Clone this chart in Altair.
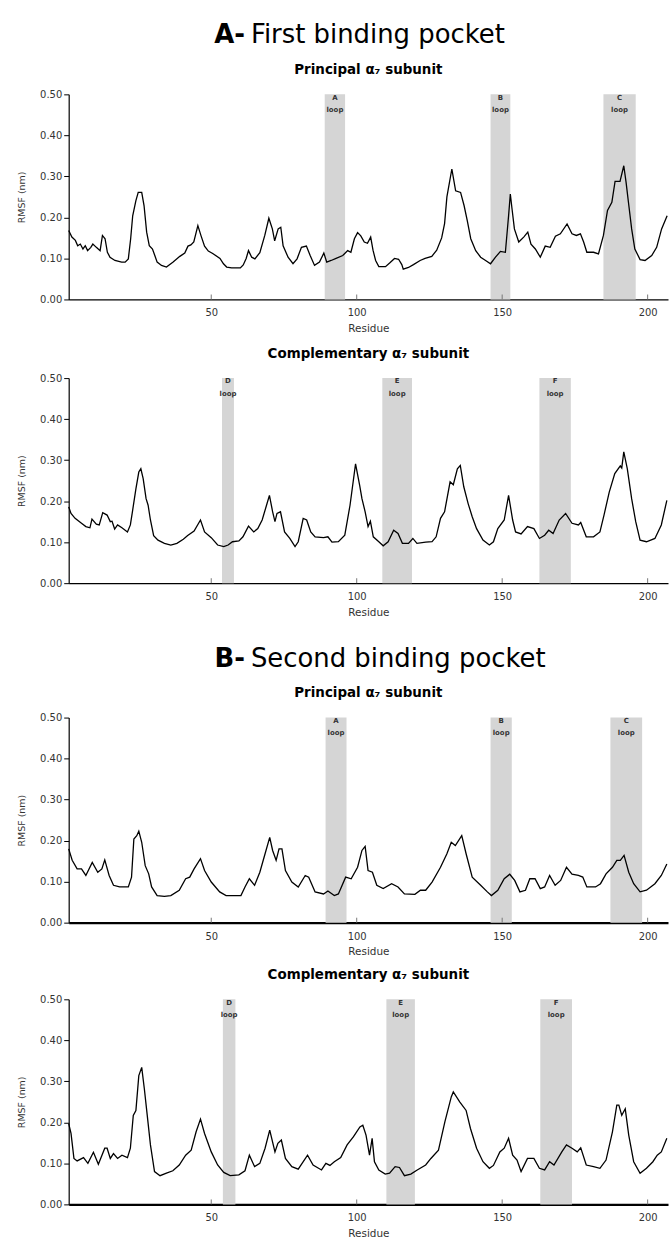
import altair as alt
import pandas as pd

FONT = "DejaVu Sans"
W = 602
H = 206

x_tick_values = [50, 100, 150, 200]
y_tick_values = [0.0, 0.1, 0.2, 0.3, 0.4, 0.5]

# (residue, RMSF nm)
a_principal = [(1,0.168),(2.1,0.152),(3.3,0.144),(4.1,0.131),(5,0.135),(5.9,0.123),(6.7,0.131),(7.5,0.119),(8.6,0.127),(9.3,0.135),(10.5,0.127),(11.8,0.119),(12.6,0.156),(13.5,0.148),(14.3,0.115),(15.2,0.103),(16.9,0.095),(19.2,0.091),(20.4,0.091),(21.5,0.099),(22.3,0.148),(23,0.204),(24.1,0.241),(24.9,0.261),(26.1,0.261),(26.9,0.229),(27.8,0.164),(28.7,0.131),(29.8,0.123),(30.6,0.107),(31.4,0.091),(32.9,0.083),(34.6,0.079),(36.9,0.091),(39.2,0.105),(40.9,0.113),(42,0.13),(43,0.133),(44,0.14),(45.4,0.18),(46.5,0.155),(47.7,0.13),(49,0.118),(50.5,0.112),(53,0.1),(54.2,0.087),(55.3,0.079),(57,0.077),(60,0.077),(61,0.084),(62,0.1),(62.8,0.119),(63.9,0.103),(65,0.099),(66.7,0.114),(68.4,0.156),(69.8,0.198),(71,0.172),(71.8,0.143),(73,0.172),(73.9,0.176),(74.7,0.131),(76.4,0.103),(78.1,0.087),(79.5,0.099),(81,0.127),(82.7,0.13),(84,0.107),(85.5,0.083),(87.2,0.091),(88.7,0.113),(89.7,0.091),(91.2,0.095),(92.9,0.1),(95.2,0.107),(96.9,0.119),(98,0.115),(99.2,0.148),(100.3,0.163),(101.4,0.155),(102.6,0.14),(103.7,0.137),(104.8,0.152),(105.6,0.12),(106.5,0.095),(107.6,0.08),(109.9,0.08),(111.5,0.09),(113,0.1),(114.4,0.098),(115.5,0.085),(116,0.074),(117.8,0.078),(119.5,0.085),(121.8,0.095),(123.5,0.1),(125.8,0.105),(127.5,0.12),(129.2,0.15),(130.2,0.185),(131,0.25),(132.7,0.318),(134,0.265),(135.7,0.261),(136.9,0.229),(138,0.192),(139.2,0.148),(140.9,0.119),(142.6,0.103),(144.3,0.095),(146,0.087),(147.7,0.103),(149.4,0.117),(151.1,0.115),(152.2,0.204),(152.8,0.257),(153.4,0.22),(154.2,0.172),(155.7,0.14),(157.4,0.152),(158.8,0.164),(159.9,0.135),(161.4,0.123),(163.1,0.103),(164.8,0.13),(166.5,0.127),(168.3,0.154),(170,0.16),(172.3,0.184),(174,0.16),(175.5,0.156),(176.9,0.16),(178,0.14),(179.1,0.115),(181.4,0.115),(183.1,0.111),(184.8,0.156),(186.2,0.217),(187.7,0.237),(188.8,0.288),(190.5,0.288),(191.8,0.326),(192.6,0.285),(193.4,0.237),(194.5,0.172),(195.6,0.123),(197.4,0.097),(199.1,0.095),(201.4,0.107),(203.1,0.127),(204.8,0.172),(206.7,0.204)]

a_complementary = [(1,0.186),(1.8,0.17),(3.2,0.158),(5.4,0.146),(6.9,0.138),(8.3,0.135),(9,0.156),(10.5,0.144),(11.5,0.142),(12.7,0.172),(14.2,0.166),(15.3,0.15),(15.9,0.151),(16.8,0.132),(17.8,0.142),(19.3,0.135),(21.2,0.125),(22.2,0.142),(22.9,0.174),(24.1,0.23),(25.1,0.271),(25.8,0.279),(26.6,0.255),(27.6,0.206),(28.3,0.19),(29.1,0.154),(30.2,0.116),(31.7,0.105),(33.9,0.097),(36.1,0.093),(38.2,0.097),(40.4,0.107),(41.9,0.116),(44.1,0.127),(46.3,0.154),(47.7,0.125),(50,0.111),(52.2,0.093),(54.3,0.089),(55.8,0.093),(57.3,0.101),(59.5,0.103),(60.9,0.113),(62.8,0.139),(64.6,0.125),(66,0.133),(67.5,0.154),(69,0.19),(70,0.214),(71.1,0.174),(71.9,0.15),(72.6,0.17),(73.8,0.174),(75.2,0.125),(77,0.109),(78.8,0.089),(79.9,0.101),(81.6,0.158),(82.8,0.154),(84.2,0.125),(85.7,0.113),(88.6,0.111),(90.1,0.113),(91.5,0.1),(93.7,0.101),(95.9,0.117),(97.7,0.19),(99.6,0.291),(101,0.239),(101.8,0.206),(102.9,0.174),(103.9,0.138),(104.7,0.151),(105.7,0.113),(107.6,0.101),(109.1,0.091),(110.8,0.101),(112.7,0.129),(114.2,0.121),(115.7,0.097),(117.8,0.097),(119.3,0.109),(120.7,0.097),(123.7,0.1),(125.9,0.101),(127.3,0.113),(128.8,0.158),(130.2,0.174),(132.1,0.247),(133.2,0.24),(134.6,0.279),(135.6,0.287),(136.8,0.235),(138.3,0.194),(139.7,0.162),(141.2,0.133),(143.4,0.105),(145.6,0.093),(147,0.101),(148.5,0.133),(150.7,0.154),(152.2,0.214),(153.6,0.154),(154.6,0.125),(156.5,0.12),(158.7,0.138),(160.9,0.133),(162.8,0.109),(164.6,0.117),(166,0.129),(167.5,0.121),(169.6,0.154),(171.8,0.17),(174,0.146),(176.2,0.142),(177,0.148),(178.9,0.113),(181.4,0.113),(183.6,0.125),(185,0.166),(186.8,0.222),(188.7,0.267),(190.6,0.286),(191.1,0.281),(191.8,0.32),(193,0.279),(194.5,0.206),(195.9,0.15),(197.4,0.105),(199.6,0.101),(202.5,0.109),(204.7,0.142),(206.6,0.202)]

b_principal = [(1,0.18),(2.2,0.152),(3.9,0.131),(5.4,0.131),(6.9,0.115),(9.1,0.147),(11,0.123),(12.4,0.131),(13.4,0.153),(14.9,0.115),(16.4,0.091),(18.5,0.087),(21.5,0.087),(22.6,0.111),(23.4,0.204),(24.4,0.212),(25.1,0.223),(26.1,0.196),(27.3,0.139),(28.5,0.119),(29.5,0.087),(31.4,0.066),(33.9,0.064),(36.1,0.066),(39,0.079),(41.2,0.107),(42.6,0.111),(44.1,0.131),(46.3,0.156),(47.7,0.127),(50,0.099),(52.9,0.075),(55.1,0.066),(58,0.066),(60.2,0.066),(61.6,0.087),(63.1,0.107),(64.9,0.091),(66.7,0.123),(68.5,0.168),(70.1,0.208),(71.1,0.176),(72.3,0.152),(73.3,0.18),(74.3,0.18),(75.5,0.127),(77.7,0.099),(79.9,0.087),(82.3,0.115),(83.5,0.111),(85.7,0.075),(88.6,0.07),(90.1,0.077),(92.3,0.066),(93.7,0.07),(96.2,0.111),(98.1,0.107),(100.3,0.135),(101.8,0.176),(102.9,0.186),(103.9,0.127),(105.4,0.123),(106.9,0.091),(109.1,0.083),(112,0.095),(114.2,0.087),(116.4,0.07),(120,0.069),(121.9,0.079),(123.7,0.079),(125.9,0.099),(128.8,0.135),(131,0.168),(132.5,0.196),(133.9,0.188),(136.1,0.212),(137.6,0.168),(139.7,0.111),(142.6,0.091),(144.9,0.075),(146.3,0.066),(148.5,0.079),(150.7,0.107),(152.6,0.118),(154.3,0.103),(156.1,0.075),(158,0.079),(159.5,0.107),(161.3,0.107),(163.1,0.083),(164.6,0.087),(166.3,0.115),(168.2,0.091),(170.1,0.103),(172.1,0.135),(174,0.118),(176.2,0.115),(177.7,0.111),(179.1,0.087),(182.1,0.087),(183.8,0.095),(185.7,0.119),(187.9,0.135),(189.4,0.152),(190.6,0.152),(191.9,0.164),(193.5,0.123),(195.2,0.095),(197.4,0.075),(199.6,0.079),(202.5,0.095),(204.7,0.115),(206.6,0.143)]

b_complementary = [(1,0.197),(1.8,0.173),(2.8,0.112),(3.9,0.106),(6.1,0.114),(7.6,0.1),(9.5,0.127),(11.2,0.098),(13.4,0.137),(14.2,0.137),(15.3,0.112),(16.4,0.124),(17.8,0.112),(19.3,0.12),(21.2,0.114),(22.2,0.137),(23.2,0.217),(24.1,0.229),(25.1,0.314),(26.1,0.334),(27,0.282),(28,0.217),(29.1,0.145),(30.5,0.08),(32.4,0.07),(34.6,0.076),(36.8,0.082),(39,0.096),(41.2,0.12),(43.1,0.132),(44.8,0.177),(46.3,0.208),(47.7,0.173),(50,0.128),(52.2,0.096),(54.3,0.078),(56.5,0.07),(59.5,0.072),(61.6,0.082),(63.1,0.12),(64.9,0.092),(66.7,0.1),(68.5,0.137),(70.1,0.181),(71.9,0.128),(72.9,0.149),(74.1,0.157),(75.5,0.112),(77.7,0.092),(79.9,0.086),(83.1,0.12),(85,0.096),(87.9,0.084),(89.4,0.1),(90.8,0.095),(92.3,0.104),(94.5,0.114),(96.7,0.145),(98.9,0.165),(101.1,0.189),(102.1,0.193),(103.2,0.169),(104.4,0.12),(105.3,0.161),(106.1,0.104),(107.6,0.084),(109.8,0.074),(111.3,0.076),(113.2,0.092),(114.7,0.09),(116.4,0.07),(118.6,0.074),(120.8,0.084),(123.7,0.096),(125.5,0.112),(128.1,0.132),(130.3,0.201),(132.5,0.262),(133.2,0.274),(135.4,0.25),(137.6,0.229),(139.1,0.185),(141.2,0.137),(143.4,0.104),(145.6,0.088),(147,0.095),(149.2,0.128),(150.7,0.137),(152.2,0.161),(153.6,0.12),(155.1,0.108),(156.5,0.08),(158.7,0.112),(160.9,0.112),(162.8,0.088),(164.6,0.084),(166.3,0.104),(167.8,0.096),(170.5,0.128),(172.1,0.145),(174,0.137),(175.8,0.128),(177,0.138),(178.9,0.096),(181.4,0.092),(183.6,0.088),(185.7,0.108),(187.9,0.177),(189.4,0.242),(190.1,0.242),(191.1,0.217),(192.3,0.233),(193.5,0.169),(195.2,0.104),(197.4,0.076),(199.6,0.088),(201.8,0.104),(203.3,0.12),(204.7,0.128),(206.6,0.161)]

# loop bands: names, start residue, end residue
loops_a_principal = (["A", "B", "C"], [89.0, 146.0, 184.8], [96.0, 152.8, 195.9])
loops_a_complementary = (["D", "E", "F"], [53.7, 108.8, 162.8], [57.8, 119.0, 173.6])
loops_b_principal = (["A", "B", "C"], [89.3, 146.0, 187.2], [96.5, 153.3, 198.1])
loops_b_complementary = (["D", "E", "F"], [54.0, 110.2, 163.1], [58.3, 120.0, 174.0])

headers = [("A-", "First binding pocket"), ("B-", "Second binding pocket")]
subtitles = ["Principal \u03b1\u2087 subunit", "Complementary \u03b1\u2087 subunit"]

xscale = alt.Scale(domain=[1, 207], nice=False, zero=False)
yscale = alt.Scale(domain=[0, 0.5], nice=False, zero=True)


def make_axes(domain_w):
    xaxis = alt.Axis(values=x_tick_values, title="Residue", grid=False, tickSize=0,
                     labelPadding=8.5, labelFontSize=10, labelFont=FONT, labelColor="#333",
                     domainColor="black", domainWidth=domain_w, titleFont=FONT,
                     titleFontSize=10.5, titleFontWeight="normal", titleColor="#333",
                     titlePadding=5.5)
    yaxis = alt.Axis(values=y_tick_values, format=".2f", title="RMSF (nm)", grid=False,
                     tickSize=5, tickColor="black", labelPadding=2, labelFontSize=10,
                     labelFont=FONT, labelColor="#333", domainColor="black", domainWidth=1.2,
                     titleFont=FONT, titleFontSize=9.5, titleFontWeight="normal",
                     titleColor="#333", titlePadding=13.5)
    return xaxis, yaxis


def panel(series, loops, subtitle, domain_w):
    xaxis, yaxis = make_axes(domain_w)
    line_df = pd.DataFrame(series, columns=["Residue", "RMSF"])
    names, starts, ends = loops
    band_df = pd.DataFrame({"start": starts, "end": ends, "lo": 0.0, "hi": 0.5})
    mids = [(s + e) / 2 for s, e in zip(starts, ends)]
    lab_df = pd.DataFrame({
        "x": mids + mids,
        "y": [0.492] * len(mids) + [0.462] * len(mids),
        "t": names + ["loop"] * len(mids),
    })
    tick_df = pd.DataFrame({"x": x_tick_values, "y0": 0.0, "y1": 0.012})

    bands = alt.Chart(band_df).mark_rect(color="#d5d5d5").encode(
        x=alt.X("start:Q", scale=xscale, axis=xaxis),
        x2="end:Q",
        y=alt.Y("lo:Q", scale=yscale, axis=yaxis),
        y2="hi:Q",
    )
    labels = alt.Chart(lab_df).mark_text(font=FONT, fontSize=7, fontWeight="bold",
                                         color="#333", baseline="middle").encode(
        x=alt.X("x:Q", scale=xscale, axis=xaxis),
        y=alt.Y("y:Q", scale=yscale, axis=yaxis),
        text="t:N",
    )
    ticks = alt.Chart(tick_df).mark_rule(color="#777", strokeWidth=1).encode(
        x=alt.X("x:Q", scale=xscale, axis=xaxis),
        y=alt.Y("y0:Q", scale=yscale, axis=yaxis),
        y2="y1:Q",
    )
    line = alt.Chart(line_df).mark_line(color="black", strokeWidth=1.3).encode(
        x=alt.X("Residue:Q", scale=xscale, axis=xaxis),
        y=alt.Y("RMSF:Q", scale=yscale, axis=yaxis),
    )
    return alt.layer(bands, ticks, labels, line).properties(
        width=W, height=H,
        title=alt.TitleParams(subtitle, anchor="middle", frame="group", font=FONT,
                              fontSize=13.5, fontWeight="bold", color="black", offset=13),
    )


def header(bold, rest, h, ybase):
    df = pd.DataFrame({"b": [bold], "r": [rest]})
    base = alt.Chart(df).properties(width=W, height=h)
    b = base.mark_text(font=FONT, fontSize=26, fontWeight="bold", align="right",
                       baseline="alphabetic", color="black").encode(
        text="b:N", x=alt.value(177), y=alt.value(ybase))
    r = base.mark_text(font=FONT, fontSize=26, align="left",
                       baseline="alphabetic", color="black").encode(
        text="r:N", x=alt.value(183), y=alt.value(ybase))
    return alt.layer(b, r)


def spacer(h):
    return alt.Chart(pd.DataFrame({"a": [0]})).mark_text(text="").encode(
        x=alt.value(0), y=alt.value(0)).properties(width=W, height=h)


hA = header(headers[0][0], headers[0][1], 91.5, 40)
p1 = panel(a_principal, loops_a_principal, subtitles[0], 1.2)
g1 = spacer(78.5)
p2 = panel(a_complementary, loops_a_complementary, subtitles[1], 1.2)
hB = header(headers[1][0], headers[1][1], 135, 84)
p3 = panel(b_principal, loops_b_principal, subtitles[0], 2.2)
g2 = spacer(77)
p4 = panel(b_complementary, loops_b_complementary, subtitles[1], 2.2)

chart = alt.vconcat(hA, p1, g1, p2, hB, p3, g2, p4, spacing=0, bounds="flush").properties(
    padding={"left": 16, "top": 0, "right": 0, "bottom": 0},
    background="white",
).configure_view(stroke=None)

chart.save("out.html", embed_options={"renderer": "svg", "actions": False})
